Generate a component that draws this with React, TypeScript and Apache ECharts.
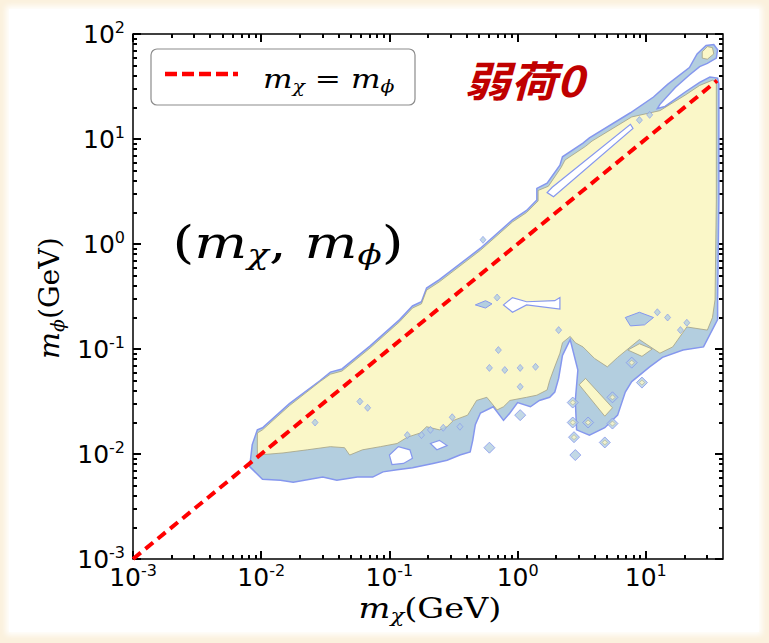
import React, { useEffect, useRef } from 'react';
import * as echarts from 'echarts';

// ---- axes (log10 GeV) ----
const X_MIN = -3;
const X_MAX = Math.log10(40);
const Y_MIN = -3;
const Y_MAX = 2;
const X_DECADES = [-3, -2, -1, 0, 1];
const Y_DECADES = [-3, -2, -1, 0, 1, 2];
const MINOR_FACTORS = [2, 3, 4, 5, 6, 7, 8, 9];

// ---- diagonal m_chi = m_phi (log10 GeV) ----
const DIAGONAL: [number, number][] = [[-3, -3], [1.556, 1.556]];

// ---- contour regions, vertices as [log10 m_chi, log10 m_phi] ----
const OUTER_REGION: [number, number][] = [
  [-2.09, -2.12], [-2.07, -1.91], [-2.03, -1.77], [-1.99, -1.75], [-1.78, -1.52], [-1.54, -1.30],
  [-1.46, -1.22], [-1.37, -1.19], [-1.15, -0.97], [-0.92, -0.72], [-0.82, -0.59], [-0.75, -0.55],
  [-0.71, -0.42], [-0.61, -0.34], [-0.29, -0.04], [-0.04, 0.23], [0.07, 0.32], [0.15, 0.42],
  [0.15, 0.53], [0.23, 0.58], [0.33, 0.75], [0.35, 0.83], [0.51, 0.96], [0.56, 1.01],
  [0.88, 1.25], [1.06, 1.40], [1.17, 1.52], [1.34, 1.68], [1.40, 1.81], [1.47, 1.89],
  [1.53, 1.90], [1.56, 1.85], [1.55, 1.77], [1.48, 1.72], [1.42, 1.69], [1.34, 1.61],
  [1.23, 1.49], [1.11, 1.33], [1.09, 1.29], [1.15, 1.31], [1.31, 1.45], [1.42, 1.54],
  [1.50, 1.59], [1.56, 1.58], [1.57, 1.52], [1.57, 0.42], [1.56, -0.53], [1.56, -0.72],
  [1.45, -0.98], [1.29, -1.01], [1.13, -1.08], [1.03, -1.17], [0.89, -1.31], [0.84, -1.41],
  [0.78, -1.63], [0.68, -1.75], [0.56, -1.82], [0.46, -1.77], [0.45, -1.49], [0.47, -1.20],
  [0.41, -0.91], [0.35, -1.06], [0.32, -1.28], [0.29, -1.41], [0.25, -1.46], [0.17, -1.49],
  [0.10, -1.55], [0.00, -1.51], [-0.06, -1.61], [-0.11, -1.68], [-0.19, -1.55], [-0.29, -1.61],
  [-0.33, -1.72], [-0.35, -1.87], [-0.37, -1.98], [-0.45, -2.01], [-0.55, -2.06], [-0.66, -2.09],
  [-0.82, -2.13], [-0.94, -2.15], [-1.05, -2.17], [-1.13, -2.22], [-1.25, -2.22], [-1.41, -2.25],
  [-1.52, -2.22], [-1.75, -2.27], [-1.85, -2.25], [-1.99, -2.24],
];

const INNER_REGION: [number, number][] = [
  [-2.03, -2.01], [-2.03, -1.80], [-1.99, -1.77], [-1.78, -1.54], [-1.54, -1.31], [-1.46, -1.24],
  [-1.37, -1.21], [-1.15, -0.99], [-0.92, -0.74], [-0.82, -0.61], [-0.75, -0.57], [-0.71, -0.44],
  [-0.61, -0.36], [-0.29, -0.06], [-0.04, 0.21], [0.07, 0.30], [0.16, 0.41], [0.16, 0.51],
  [0.24, 0.55], [0.34, 0.73], [0.37, 0.80], [0.53, 0.93], [0.58, 0.98], [0.89, 1.21],
  [1.11, 1.27], [1.31, 1.42], [1.42, 1.51], [1.52, 1.56], [1.55, 1.54], [1.55, 0.42],
  [1.54, -0.53], [1.52, -0.70], [1.48, -0.82], [1.32, -0.79], [1.21, -0.98], [1.11, -1.04],
  [0.95, -0.91], [0.78, -1.08], [0.70, -1.17], [0.60, -1.09], [0.51, -0.98], [0.45, -0.94],
  [0.41, -0.88], [0.35, -0.94], [0.33, -1.04], [0.28, -1.20], [0.25, -1.30], [0.23, -1.39],
  [0.15, -1.44], [0.07, -1.46], [-0.06, -1.49], [-0.11, -1.55], [-0.16, -1.58], [-0.24, -1.46],
  [-0.32, -1.49], [-0.35, -1.55], [-0.39, -1.63], [-0.50, -1.68], [-0.55, -1.74], [-0.61, -1.77],
  [-0.71, -1.74], [-0.76, -1.80], [-0.86, -1.84], [-0.94, -1.90], [-1.07, -1.93], [-1.21, -1.96],
  [-1.31, -2.01], [-1.35, -1.94], [-1.46, -1.93], [-1.64, -1.96], [-1.83, -1.99],
];

const YELLOW_STRIPE: [number, number][] = [[0.48, -1.34], [0.53, -1.28], [0.74, -1.56], [0.68, -1.64]];
const YELLOW_OVAL: [number, number][] = [[0.86, -1.01], [0.95, -0.95], [1.05, -1.00], [0.97, -1.07]];
const YELLOW_TOP: [number, number][] = [[1.44, 1.83], [1.48, 1.88], [1.52, 1.87], [1.53, 1.81], [1.48, 1.76], [1.44, 1.77]];
const HOLE_A: [number, number][] = [[-1.00, -2.01], [-0.93, -1.93], [-0.84, -1.96], [-0.82, -2.04], [-0.89, -2.09], [-0.98, -2.10]];
const HOLE_B: [number, number][] = [[-0.68, -1.90], [-0.61, -1.87], [-0.55, -1.92], [-0.63, -1.96]];
const SLOT: [number, number][] = [[0.23, 0.49], [0.27, 0.54], [0.88, 1.14], [0.90, 1.10], [0.28, 0.45]];
const FISH: [number, number][] = [[-0.11, -0.58], [-0.04, -0.51], [0.07, -0.55], [0.29, -0.54], [0.33, -0.51], [0.33, -0.62], [0.07, -0.58], [-0.04, -0.65]];
const BLOB_A: [number, number][] = [[-0.33, -0.58], [-0.25, -0.54], [-0.20, -0.57], [-0.25, -0.61]];
const BLOB_B: [number, number][] = [[0.84, -0.70], [0.95, -0.65], [1.06, -0.70], [0.99, -0.77], [0.88, -0.78]];

const SMALL_DOTS: [number, number][] = [
  [-0.15, -1.01], [-0.22, -1.18], [-0.10, -1.20], [0.02, -1.18], [0.14, -1.17], [0.02, -1.36],
  [-1.23, -1.50], [-1.17, -1.56], [-1.58, -1.70], [-0.86, -1.82], [-0.75, -1.82], [-0.68, -1.77],
  [-0.58, -1.75], [-0.45, -1.74], [-0.51, -1.65], [0.32, -0.82], [-0.16, -0.51], [1.09, -0.65],
  [1.17, -0.70], [1.27, -0.82], [1.32, -0.75], [0.95, 1.18], [1.03, 1.23], [-0.27, 0.04],
];
const DIAMONDS: [number, number][] = [
  [0.43, -1.51], [0.43, -1.70], [0.55, -1.70], [0.44, -1.84], [0.45, -2.01], [0.74, -1.71],
  [0.68, -1.89], [0.02, -1.63], [-0.22, -1.94], [0.89, -1.13], [0.97, -1.32], [0.74, -1.46],
];
const DIAMOND_CORES: [number, number][] = [
  [0.43, -1.51], [0.43, -1.70], [0.55, -1.70], [0.44, -1.84], [0.74, -1.71], [0.68, -1.89],
  [0.89, -1.13], [0.97, -1.32], [0.74, -1.46],
];

const BLUE = '#b3cedf';
const BLUE_EDGE = '#8597ee';
const YELLOW = '#faf7c8';
const OLIVE = '#a3a184';

const POLYS = [
  { pts: OUTER_REGION, fill: BLUE, stroke: BLUE_EDGE, lw: 1.5 },
  { pts: INNER_REGION, fill: YELLOW, stroke: OLIVE, lw: 0.8 },
  { pts: YELLOW_STRIPE, fill: YELLOW, stroke: OLIVE, lw: 0.8 },
  { pts: YELLOW_OVAL, fill: YELLOW, stroke: OLIVE, lw: 0.8 },
  { pts: YELLOW_TOP, fill: YELLOW, stroke: OLIVE, lw: 0.8 },
  { pts: HOLE_A, fill: '#ffffff', stroke: BLUE_EDGE, lw: 1.2 },
  { pts: HOLE_B, fill: '#ffffff', stroke: BLUE_EDGE, lw: 1.2 },
  { pts: SLOT, fill: '#ffffff', stroke: BLUE_EDGE, lw: 1.2 },
  { pts: FISH, fill: '#ffffff', stroke: BLUE_EDGE, lw: 1.2 },
  { pts: BLOB_A, fill: BLUE, stroke: BLUE_EDGE, lw: 1 },
  { pts: BLOB_B, fill: BLUE, stroke: BLUE_EDGE, lw: 1 },
];

const minorTicks = (decades: number[], max: number) =>
  decades.flatMap((d) => MINOR_FACTORS.map((k) => d + Math.log10(k))).filter((v) => v < max - 1e-6);

const TICK_FONT = 'DejaVu Sans';
const labelRich = {
  b: { fontFamily: TICK_FONT, fontSize: 25, lineHeight: 30, color: '#000' },
  s: { fontFamily: TICK_FONT, fontSize: 16, lineHeight: 16, verticalAlign: 'top', color: '#000' },
};
const fmt = (v: number) => '{b|10}{s|' + Math.round(v) + '}';

function mkAxis(kind: 'x' | 'y', position: string, major: boolean, showLabel: boolean) {
  const isX = kind === 'x';
  const decades = isX ? X_DECADES : Y_DECADES;
  const max = isX ? X_MAX : Y_MAX;
  const minors = minorTicks(isX ? X_DECADES : Y_DECADES.slice(0, -1), max);
  return {
    type: 'value',
    gridIndex: 0,
    position,
    offset: 0,
    min: isX ? X_MIN : Y_MIN,
    max,
    interval: 1,
    axisLine: { show: false, onZero: false },
    splitLine: { show: false },
    axisTick: {
      show: true,
      inside: true,
      length: major ? 8 : 4,
      lineStyle: { color: '#000', width: 2 },
      customValues: major ? decades : minors,
    },
    axisLabel: showLabel
      ? { show: true, customValues: decades, formatter: fmt, rich: labelRich, margin: isX ? 3 : 8 }
      : { show: false },
  };
}

const serif = 'DejaVu Serif';
const mathRich = (size: number, sub: number, subLH: number) => ({
  i: { fontFamily: serif, fontStyle: 'italic', fontSize: size, lineHeight: size + 6, color: '#000' },
  s: { fontFamily: serif, fontStyle: 'italic', fontSize: sub, lineHeight: subLH, verticalAlign: 'bottom', color: '#000' },
  n: { fontFamily: serif, fontSize: size, lineHeight: size + 6, color: '#000' },
});

export default function App() {
  const ref = useRef<HTMLDivElement>(null);
  useEffect(() => {
    const chart = echarts.init(ref.current!, null, { renderer: 'svg' });
    const option: any = {
      animation: false,
      grid: {
        left: 133, top: 34, width: 590, height: 525,
        show: true, borderColor: '#000', borderWidth: 1.5, backgroundColor: '#fff',
        containLabel: false, outerBoundsMode: 'none',
      },
      xAxis: [
        mkAxis('x', 'bottom', true, true),
        mkAxis('x', 'bottom', false, false),
        mkAxis('x', 'top', true, false),
        mkAxis('x', 'top', false, false),
      ],
      yAxis: [
        mkAxis('y', 'left', true, true),
        mkAxis('y', 'left', false, false),
        mkAxis('y', 'right', true, false),
        mkAxis('y', 'right', false, false),
      ],
      series: [
        {
          type: 'custom',
          xAxisIndex: 0,
          yAxisIndex: 0,
          silent: true,
          z: 2,
          data: POLYS.map((p, i) => [p.pts[0][0], p.pts[0][1], i]),
          renderItem: (_params: any, api: any) => {
            const d = POLYS[api.value(2)];
            return {
              type: 'polygon',
              shape: { points: d.pts.map((pt) => api.coord(pt)) },
              style: { fill: d.fill, stroke: d.stroke, lineWidth: d.lw },
            };
          },
        },
        {
          type: 'scatter', xAxisIndex: 0, yAxisIndex: 0, silent: true, z: 3,
          symbol: 'diamond', symbolSize: 11, data: DIAMONDS,
          itemStyle: { color: BLUE, borderColor: BLUE_EDGE, borderWidth: 1 },
        },
        {
          type: 'scatter', xAxisIndex: 0, yAxisIndex: 0, silent: true, z: 4,
          symbol: 'diamond', symbolSize: 5, data: DIAMOND_CORES,
          itemStyle: { color: YELLOW, borderColor: OLIVE, borderWidth: 0.6 },
        },
        {
          type: 'scatter', xAxisIndex: 0, yAxisIndex: 0, silent: true, z: 4,
          symbol: 'diamond', symbolSize: [6, 7], data: SMALL_DOTS,
          itemStyle: { color: BLUE, borderColor: BLUE_EDGE, borderWidth: 0.8 },
        },
        {
          type: 'line', xAxisIndex: 0, yAxisIndex: 0, silent: true, z: 5,
          data: DIAGONAL, symbol: 'none',
          lineStyle: { color: '#ff0000', width: 4, type: [10, 6] },
        },
      ],
      graphic: [
        {
          type: 'rect', z: 100,
          shape: { x: 151, y: 49, width: 264, height: 56, r: 6 },
          style: { fill: '#fff', stroke: '#8c8c8c', lineWidth: 1.2 },
        },
        {
          type: 'line', z: 101,
          shape: { x1: 165, y1: 74, x2: 238, y2: 74 },
          style: { stroke: '#ff0000', lineWidth: 4.5, lineDash: [12, 5] },
        },
        {
          type: 'text', z: 101, x: 263, y: 79, scaleX: 1.2,
          style: {
            text: '{i|m}{s|χ}{n| = }{i|m}{s|ϕ}',
            rich: mathRich(26, 17, 12),
            align: 'left', verticalAlign: 'middle',
          },
        },
        {
          type: 'text', z: 101, x: 524, y: 79, scaleX: 1.1,
          style: {
            text: '弱荷0',
            fontFamily: 'Noto Sans CJK SC', fontSize: 42, fontWeight: 'bold', fontStyle: 'italic',
            fill: '#c00000', align: 'center', verticalAlign: 'middle',
          },
        },
        {
          type: 'text', z: 101, x: 288, y: 243, scaleX: 1.27,
          style: {
            text: '{n|(}{i|m}{s|χ}{n|, }{i|m}{s|ϕ}{n|)}',
            rich: mathRich(44, 28, 22),
            align: 'center', verticalAlign: 'middle',
          },
        },
        {
          type: 'text', z: 101, x: 430, y: 608, scaleX: 1.2,
          style: {
            text: '{i|m}{s|χ}{n|(GeV)}',
            rich: mathRich(28, 19, 14),
            align: 'center', verticalAlign: 'middle',
          },
        },
        {
          type: 'text', z: 101, x: 50, y: 298, rotation: Math.PI / 2, scaleX: 1.05,
          style: {
            text: '{i|m}{s|ϕ}{n|(GeV)}',
            rich: mathRich(27, 18, 14),
            align: 'center', verticalAlign: 'middle',
          },
        },
      ],
    };
    chart.setOption(option);
    return () => chart.dispose();
  }, []);

  return (
    <div style={{ position: 'fixed', left: 0, top: 0, width: 769, height: 643, background: '#fbf1dd', overflow: 'hidden' }}>
      <div style={{ position: 'absolute', left: 9, top: 9, width: 750, height: 623, background: '#fff', boxShadow: '0 0 6px 3px #fff' }} />
      <div ref={ref} style={{ position: 'absolute', left: 0, top: 0, width: 769, height: 643 }} />
    </div>
  );
}
